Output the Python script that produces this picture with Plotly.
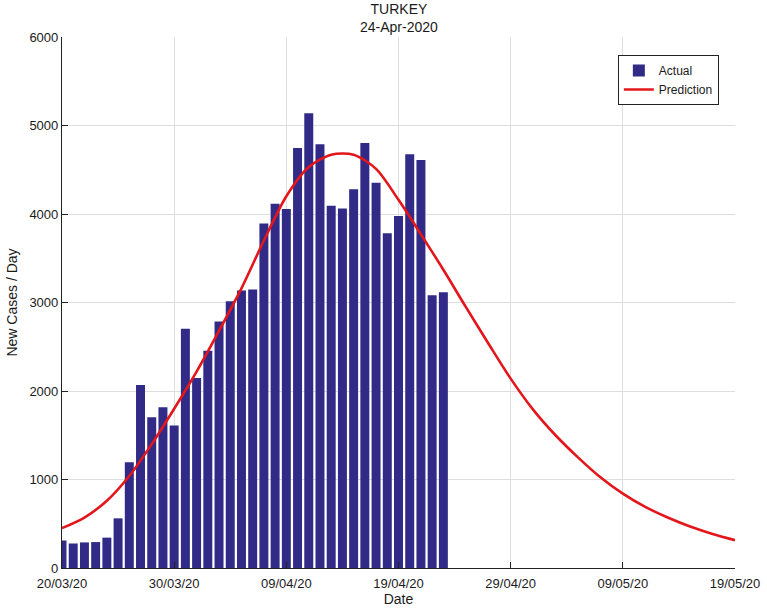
import datetime as dt
import plotly.graph_objects as go

# ---- data ----
start = dt.date(2020, 3, 20)
actual_cases = [311, 277, 289, 293, 343, 561, 1196, 2069, 1704, 1815,
                1610, 2704, 2148, 2456, 2786, 3013, 3135, 3148, 3892, 4117,
                4056, 4747, 5138, 4789, 4093, 4062, 4281, 4801, 4353, 3783,
                3977, 4674, 4611, 3083, 3116]
actual_dates = [start + dt.timedelta(days=i) for i in range(len(actual_cases))]

pred_day_offsets = [0, 2, 4, 6, 8, 10, 12, 14, 16, 18, 20, 22, 24, 26, 28,
                    30, 32, 34, 36, 38, 40, 42, 44, 46, 48, 50, 52, 54, 56, 58, 60]
pred_values = [450, 570, 760, 1040, 1400, 1800, 2220, 2680, 3160, 3700, 4200, 4530,
               4670, 4670, 4510, 4160, 3770, 3370, 2950, 2540, 2140, 1790, 1500,
               1250, 1025, 840, 690, 570, 468, 384, 314]
pred_dates = [start + dt.timedelta(days=d) for d in pred_day_offsets]

tick_dates = ["2020-03-20", "2020-03-30", "2020-04-09", "2020-04-19",
              "2020-04-29", "2020-05-09", "2020-05-19"]
tick_labels = ["20/03/20", "30/03/20", "09/04/20", "19/04/20",
               "29/04/20", "09/05/20", "19/05/20"]
y_ticks = [0, 1000, 2000, 3000, 4000, 5000, 6000]

FONT = "Liberation Sans, Arial, Helvetica, sans-serif"

fig = go.Figure()
fig.add_trace(go.Bar(x=actual_dates, y=actual_cases, name="Actual",
                     marker=dict(color="#312a86", line=dict(width=0))))
fig.add_trace(go.Scatter(x=pred_dates, y=pred_values, name="Prediction",
                         mode="lines", line=dict(color="#e3161b", width=2.6, shape="spline",
                                                 smoothing=0.8)))

fig.update_layout(
    width=767, height=611,
    margin=dict(l=62, r=32, t=37, b=43),
    paper_bgcolor="white", plot_bgcolor="white",
    font=dict(family=FONT, size=13, color="#1a1a1a"),
    bargap=0.2,
    showlegend=True,
    legend=dict(x=0.976, y=0.966, xanchor="right", yanchor="top",
                bgcolor="white", bordercolor="#222", borderwidth=1,
                font=dict(size=12, family=FONT), tracegroupgap=0,
                itemwidth=30),
    xaxis=dict(type="date", range=["2020-03-20", "2020-05-19"],
               tickvals=tick_dates, ticktext=tick_labels,
               showgrid=True, gridcolor="#dedede", gridwidth=1,
               showline=True, linecolor="#222", linewidth=1.2,
               ticks="inside", ticklen=6, tickcolor="#222",
               ticklabelstandoff=3, automargin=False,
               title=dict(text="Date", standoff=1, font=dict(size=14)),
               zeroline=False),
    yaxis=dict(range=[0, 6000], tickvals=y_ticks,
               showgrid=True, gridcolor="#dedede", gridwidth=1,
               showline=True, linecolor="#222", linewidth=1.2,
               ticks="inside", ticklen=6, tickcolor="#222",
               automargin=False,
               title=dict(text="New Cases / Day", standoff=8, font=dict(size=14)),
               zeroline=False),
    annotations=[
        dict(text="TURKEY<br>24-Apr-2020", xref="paper", yref="paper", x=0.5, y=1.035,
             xanchor="center", yanchor="middle", showarrow=False, align="center",
             font=dict(size=14, family=FONT, color="#1a1a1a")),
    ],
)

fig.write_html("out.html")
